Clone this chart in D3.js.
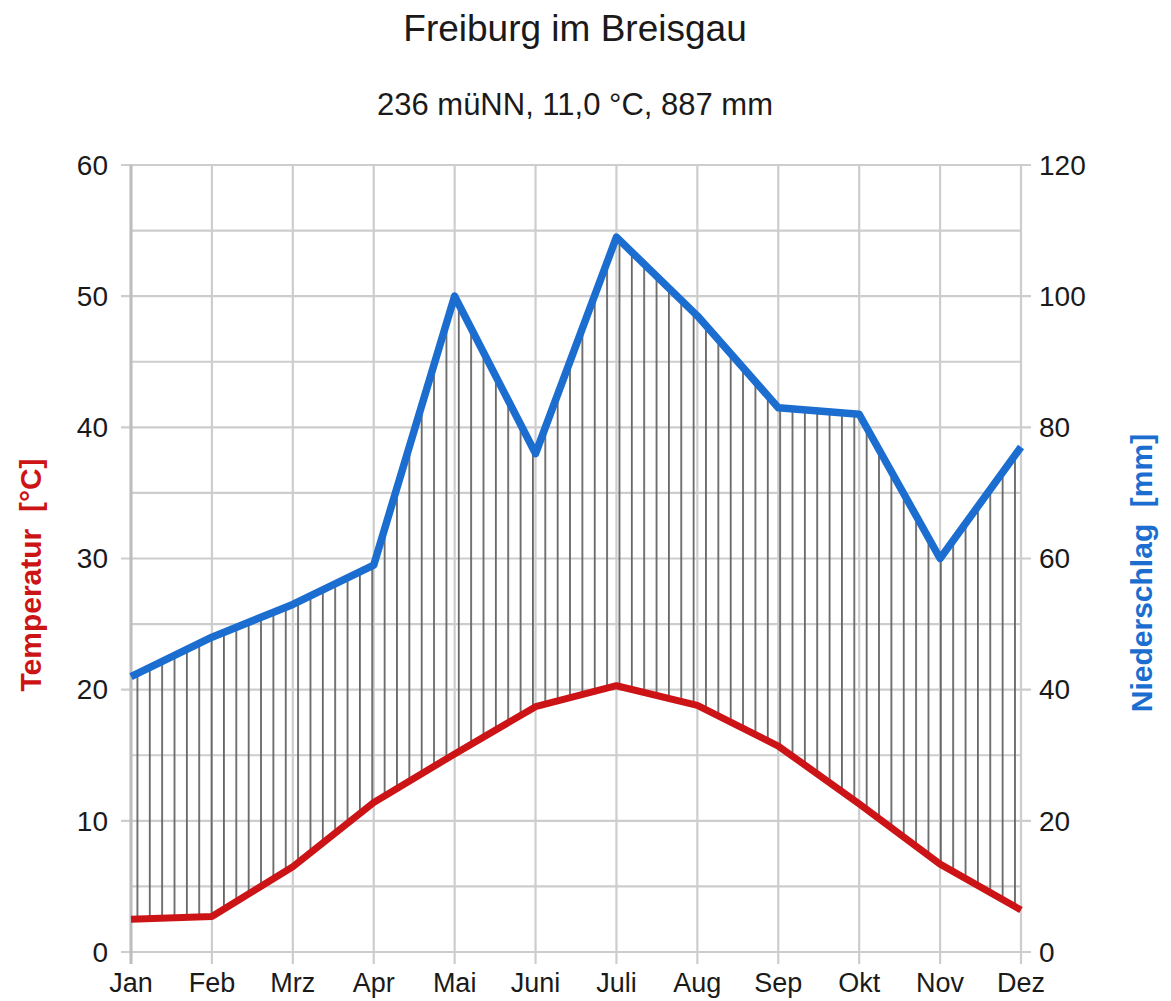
<!DOCTYPE html>
<html>
<head>
<meta charset="utf-8">
<script src="https://cdn.jsdelivr.net/npm/d3@7"></script>
<style>
  body { margin: 0; background: #fff; }
  text { font-family: "Liberation Sans", Arial, sans-serif; }
</style>
</head>
<body>
<svg id="chart" width="1171" height="1001"></svg>
<script>
// climate diagram, Freiburg im Breisgau
var months = ["Jan", "Feb", "Mrz", "Apr", "Mai", "Juni", "Juli", "Aug", "Sep", "Okt", "Nov", "Dez"];
var temperature = [2.5, 2.7, 6.5, 11.4, 15.1, 18.7, 20.3, 18.8, 15.7, 11.3, 6.7, 3.2];
var precipitation = [42, 48, 53, 59, 100, 76, 109, 97, 83, 82, 60, 77];
var tempTicks = [0, 10, 20, 30, 40, 50, 60];
var precTicks = [0, 20, 40, 60, 80, 100, 120];

var plotL = 131, plotR = 1021, plotT = 165, plotB = 952;
var svg = d3.select("#chart");

var x = d3.scalePoint().domain(months).range([plotL, plotR]);
var yT = d3.scaleLinear().domain([0, 60]).range([plotB, plotT]);
var yP = d3.scaleLinear().domain([0, 120]).range([plotB, plotT]);

// hatch pattern
var defs = svg.append("defs");
var pat = defs.append("pattern")
    .attr("id", "hatch")
    .attr("patternUnits", "userSpaceOnUse")
    .attr("x", plotL + 5.5)
    .attr("y", 0)
    .attr("width", 12.36)
    .attr("height", 20);
pat.append("line")
    .attr("x1", 0.9).attr("x2", 0.9)
    .attr("y1", 0).attr("y2", 20)
    .attr("stroke", "#666")
    .attr("stroke-width", 1.8);

// grid
var grid = svg.append("g").attr("stroke", "#cdcdcd").attr("stroke-width", 2.2);
grid.selectAll("line.h").data(d3.range(0, 61, 5)).enter().append("line")
    .attr("y1", function(d) { return yT(d); })
    .attr("y2", function(d) { return yT(d); })
    .attr("x1", function(d) { return d % 10 === 0 ? plotL - 10 : plotL; })
    .attr("x2", function(d) { return d % 10 === 0 ? plotR + 10 : plotR; });
grid.selectAll("line.v").data(months).enter().append("line")
    .attr("x1", function(d) { return x(d); })
    .attr("x2", function(d) { return x(d); })
    .attr("y1", plotT).attr("y2", plotB + 12);
svg.append("line")
    .attr("x1", plotL).attr("x2", plotL).attr("y1", plotT).attr("y2", plotB + 12)
    .attr("stroke", "#bdbdbd").attr("stroke-width", 3);

// hatched area between temperature and precipitation
var rows = months.map(function(m, i) { return {m: m, t: temperature[i], p: precipitation[i]}; });
var area = d3.area()
    .x(function(d) { return x(d.m); })
    .y0(function(d) { return yT(d.t); })
    .y1(function(d) { return yP(d.p); });
svg.append("path").datum(rows).attr("d", area).attr("fill", "url(#hatch)");

// lines
svg.append("path").datum(rows)
    .attr("d", d3.line().x(function(d) { return x(d.m); }).y(function(d) { return yT(d.t); }))
    .attr("fill", "none").attr("stroke", "#cc1417").attr("stroke-width", 7)
    .attr("stroke-linejoin", "round");
svg.append("path").datum(rows)
    .attr("d", d3.line().x(function(d) { return x(d.m); }).y(function(d) { return yP(d.p); }))
    .attr("fill", "none").attr("stroke", "#1b6ed0").attr("stroke-width", 7.5)
    .attr("stroke-linejoin", "round");

// tick labels
svg.append("g").selectAll("text").data(tempTicks).enter().append("text")
    .attr("x", 108).attr("y", function(d) { return yT(d); })
    .attr("dy", "0.35em").attr("text-anchor", "end")
    .attr("font-size", 28).attr("fill", "#1a1a1a")
    .text(function(d) { return d; });
svg.append("g").selectAll("text").data(precTicks).enter().append("text")
    .attr("x", 1039).attr("y", function(d) { return yP(d); })
    .attr("dy", "0.35em").attr("text-anchor", "start")
    .attr("font-size", 28).attr("fill", "#1a1a1a")
    .text(function(d) { return d; });
svg.append("g").selectAll("text").data(months).enter().append("text")
    .attr("x", function(d) { return x(d); }).attr("y", 983)
    .attr("dy", "0.35em").attr("text-anchor", "middle")
    .attr("font-size", 27).attr("fill", "#1a1a1a")
    .text(function(d) { return d; });

// titles
svg.append("text").attr("x", 575).attr("y", 28).attr("dy", "0.35em")
    .attr("text-anchor", "middle").attr("font-size", 37).attr("fill", "#1a1a1a")
    .text("Freiburg im Breisgau");
svg.append("text").attr("x", 575).attr("y", 104).attr("dy", "0.35em")
    .attr("text-anchor", "middle").attr("font-size", 31).attr("fill", "#1a1a1a")
    .text("236 müNN, 11,0 °C, 887 mm");

svg.append("text")
    .attr("transform", "translate(30,575) rotate(-90)")
    .attr("dy", "0.35em").attr("text-anchor", "middle")
    .attr("font-size", 30).attr("font-weight", "bold").attr("fill", "#cc1417")
    .attr("xml:space", "preserve")
    .text("Temperatur  [°C]");
svg.append("text")
    .attr("transform", "translate(1141,573) rotate(-90)")
    .attr("dy", "0.35em").attr("text-anchor", "middle")
    .attr("font-size", 30).attr("font-weight", "bold").attr("fill", "#1b6ed0")
    .attr("xml:space", "preserve")
    .text("Niederschlag  [mm]");
</script>
</body>
</html>
